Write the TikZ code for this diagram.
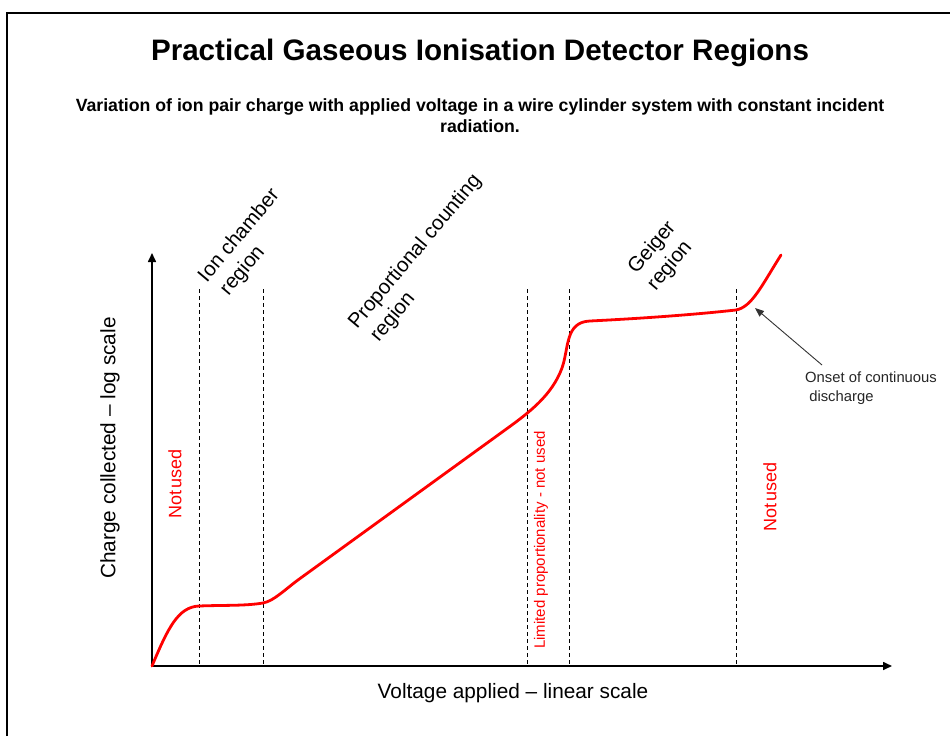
\documentclass[tikz,border=0pt]{standalone}
\usepackage{fontspec}
\setmainfont{Liberation Sans}
\usetikzlibrary{arrows.meta}
\begin{document}
\begin{tikzpicture}[x=1pt,y=-1pt,
  axis/.style={line width=1.6pt,-{Triangle[length=9pt,width=8pt]}},
  divider/.style={dash pattern=on 4pt off 3pt,line width=0.9pt},
  curve/.style={red,line width=2.8pt,line cap=round,line join=round},
  region/.style={font=\fontsize{20.5}{25}\selectfont,rotate=50,align=left,inner sep=0pt},
  unused/.style={red,font=\fontsize{15}{17}\selectfont,rotate=90},
  axislabel/.style={font=\fontsize{20.8}{22}\selectfont}]
\useasboundingbox (0,0) rectangle (950,736);
\fill[white] (0,0) rectangle (950,736);
% frame
\draw[line width=1.3pt] (7,736) -- (7,13) -- (950,13);
% title
\node[font=\fontsize{29.6}{34}\selectfont\bfseries] (title) at (480,53) {Practical Gaseous Ionisation Detector Regions};
\node[font=\fontsize{17.7}{21}\selectfont\bfseries,align=center] (sub) at (480,116) {Variation of ion pair charge with applied voltage in a wire cylinder system with constant incident\\radiation.};
% axes
\coordinate (O) at (152,666);
\coordinate (Ytip) at (152,253);
\coordinate (Xtip) at (892,666);
% dividers
\foreach \n/\x in {d1/199,d2/263,d3/527,d4/569,d5/736}{
  \coordinate (\n t) at (\x,289);
  \coordinate (\n b) at (\x,666);
  \draw[divider] (\n t) -- (\n b);
}
\draw[axis] (O) -- (Ytip);
\draw[axis] (O) -- (Xtip);
% curve
\draw[curve] (O) .. controls (168,628) and (178,607) .. (199,606)
  .. controls (225,605) and (245,606) .. (263,603)
  .. controls (274,601) and (285,589.3) .. (300,578.5)
  -- (505,430)
  .. controls (530,412) and (552,395) .. (562,368)
  .. controls (569,348) and (565,322) .. (590,321)
  .. controls (650,318) and (700,314) .. (736,310)
  .. controls (752,307) and (762,285) .. (781,255);
% region labels
\node[region] (ion) at (249,244) {Ion chamber\\\hspace*{4pt}region};
\node[region] (prop) at (425,260) {Proportional counting\\\hspace*{4pt}region};
\node[region] (geiger) at (662,256) {Geiger\\region};
% unused labels
\node[unused,font=\fontsize{18}{20}\selectfont] (nu1) at (175,484) {Not\hspace{-3pt} used};
\node[unused] (lp) at (541,540) {Limited proportionality - not used};
\node[unused,font=\fontsize{18}{20}\selectfont] (nu2) at (770,497) {Not\hspace{-3pt} used};
% axis labels
\node[axislabel] (xl) at (513,693) {Voltage applied – linear scale};
\node[axislabel,rotate=90] (yl) at (110,448) {Charge collected – log scale};
% note
\node[font=\fontsize{14.8}{18.5}\selectfont,text=black!85,align=left,anchor=north west,inner sep=0pt] (note) at (805,372) {Onset of continuous\\\ discharge};
\coordinate (ntail) at (822,365);
\coordinate (nhead) at (755,308);
\draw[line width=0.9pt,black!80,-{Triangle[length=9pt,width=7pt]}] (ntail) -- (nhead);
\end{tikzpicture}
\end{document}
